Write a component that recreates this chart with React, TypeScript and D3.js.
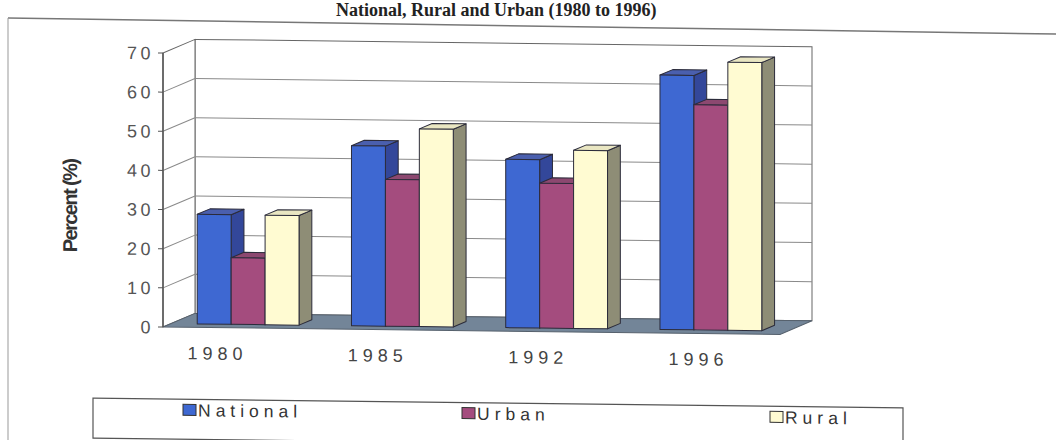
import React from 'react';
import * as d3 from 'd3';

const years = ['1980', '1985', '1992', '1996'];
const seriesNames = ['National', 'Urban', 'Rural'];
const national = [28, 46, 43, 65];
const urban = [17, 37.5, 37, 57.5];
const rural = [28, 50.5, 45.5, 68.5];
const yTicks = [0, 10, 20, 30, 40, 50, 60, 70];

const W = 1056;
const H = 440;
// depth of the 3D box and where the bars sit inside it
const DX = 32;
const DY = -14;
const Z0 = 0.25;
const Z1 = 0.65;
const SKEW = 0.012; // scan is slightly skewed

const colors: Record<string, { front: string; side: string; top: string }> = {
  National: { front: '#3e68d2', side: '#33479a', top: '#4a5fae' },
  Urban: { front: '#a44c7e', side: '#7b3a60', top: '#8c4870' },
  Rural: { front: '#fffbd2', side: '#8e8d76', top: '#e9e6c2' },
};

const App: React.FC = () => {
  const y = d3.scaleLinear().domain([0, 70]).range([327, 53]);
  const x = d3.scaleBand<string>().domain(years).range([163, 780]);
  const bw = x.bandwidth();
  const gw = bw * 0.66;
  const xs = d3.scaleBand<string>().domain(seriesNames).range([(bw - gw) / 2, (bw + gw) / 2]);
  // category labels sit a little left of the bands in the original
  const xl = d3.scalePoint<string>().domain(years).range([215, 696]);

  const values: Record<string, number[]> = { National: national, Urban: urban, Rural: rural };
  const left = x.range()[0];
  const right = x.range()[1];
  const base = y(0);
  const pt = (px: number, py: number, z: number) => `${px + z * DX},${py + z * DY}`;

  const bars: React.ReactNode[] = [];
  years.forEach((yr, i) => {
    seriesNames.forEach((s) => {
      const v = values[s][i];
      const xa = (x(yr) as number) + (xs(s) as number);
      const xb = xa + xs.bandwidth();
      const yt = y(v);
      const c = colors[s];
      bars.push(
        <g key={yr + s} stroke="#2b2b3a" strokeWidth={1} strokeLinejoin="round">
          <polygon points={[pt(xb, yt, Z0), pt(xb, yt, Z1), pt(xb, base, Z1), pt(xb, base, Z0)].join(' ')} fill={c.side} />
          <polygon points={[pt(xa, yt, Z0), pt(xb, yt, Z0), pt(xb, yt, Z1), pt(xa, yt, Z1)].join(' ')} fill={c.top} />
          <polygon points={[pt(xa, yt, Z0), pt(xb, yt, Z0), pt(xb, base, Z0), pt(xa, base, Z0)].join(' ')} fill={c.front} />
        </g>
      );
    });
  });

  const tickFont = '"Liberation Sans", Arial, sans-serif';

  return (
    <svg width={W} height={H} style={{ position: 'absolute', left: 0, top: 0, background: '#fff' }}>
      {/* title, mostly lost at the top of the scan */}
      <text x={336} y={16} fontFamily='"Liberation Serif", "Times New Roman", serif' fontWeight="bold" fontSize={18} fill="#222">
        National, Rural and Urban (1980 to 1996)
      </text>
      {/* outer frame */}
      <line x1={8} y1={18} x2={W} y2={34} stroke="#777" strokeWidth={1.5} />
      <line x1={8} y1={18} x2={8} y2={H} stroke="#999" strokeWidth={1} />

      <g transform={`matrix(1,${SKEW},0,1,0,${-SKEW * 163})`}>
        {/* back wall */}
        <rect x={left + DX} y={y(70) + DY} width={right - left} height={base - y(70)} fill="#fff" stroke="#666" />
        {/* left wall */}
        <polygon points={[pt(left, y(70), 0), pt(left, y(70), 1), pt(left, base, 1), pt(left, base, 0)].join(' ')} fill="#fff" stroke="#666" />
        {/* grid */}
        {yTicks.slice(1, -1).map((t) => (
          <g key={t} stroke="#8a8a8a" strokeWidth={1}>
            <line x1={left} y1={y(t)} x2={left + DX} y2={y(t) + DY} />
            <line x1={left + DX} y1={y(t) + DY} x2={right + DX} y2={y(t) + DY} />
          </g>
        ))}
        {/* floor */}
        <polygon points={[pt(left, base, 0), pt(right, base, 0), pt(right, base, 1), pt(left, base, 1)].join(' ')} fill="#738598" stroke="#56616d" />
        {/* value axis */}
        <line x1={left} y1={y(70)} x2={left} y2={base} stroke="#555" strokeWidth={1.5} />
        {yTicks.map((t) => (
          <g key={t}>
            <line x1={left - 5} y1={y(t)} x2={left} y2={y(t)} stroke="#555" />
            <text x={left - 9} y={y(t)} dy="0.36em" textAnchor="end" fontFamily={tickFont} fontSize={18} letterSpacing={3.5} fill="#555">
              {t}
            </text>
          </g>
        ))}
        {bars}
        {/* category labels */}
        {years.map((yr) => (
          <text key={yr} x={(xl(yr) as number) + 2.5} y={359} textAnchor="middle" fontFamily={tickFont} fontSize={18} letterSpacing={5} fill="#444">
            {yr}
          </text>
        ))}
        {/* axis title */}
        <text transform={`translate(77,207) rotate(-90)`} textAnchor="middle" fontFamily={tickFont} fontWeight="bold" fontSize={20} letterSpacing={-1.6} fill="#333">
          Percent (%)
        </text>

        {/* legend */}
        <rect x={93} y={399} width={810} height={40} fill="#fff" stroke="#555" strokeWidth={1.2} />
        {seriesNames.map((s, i) => {
          const lx = [183, 462, 770][i];
          return (
            <g key={s}>
              <rect x={lx} y={404} width={13} height={11} fill={colors[s].front} stroke="#333" />
              <text x={lx + 15} y={416} fontFamily={tickFont} fontSize={17.5} letterSpacing={5} fill="#333">
                {s}
              </text>
            </g>
          );
        })}
      </g>
    </svg>
  );
};

export default App;
